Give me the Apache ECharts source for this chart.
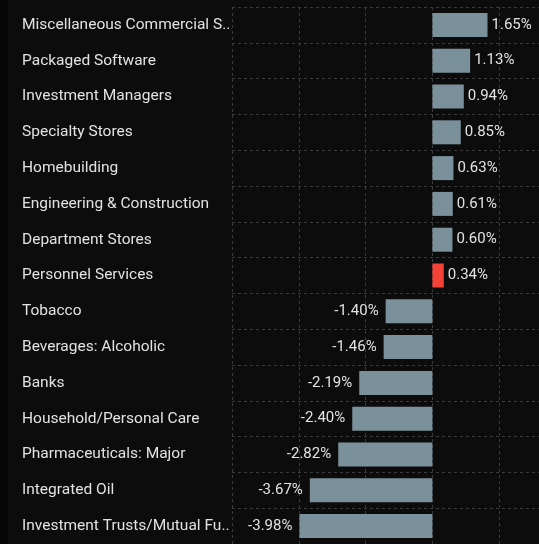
<!DOCTYPE html>
<html>
<head>
<meta charset="utf-8">
<script src="https://cdn.jsdelivr.net/npm/echarts@6/dist/echarts.min.js"></script>
<style>
html,body{margin:0;padding:0;background:#0c0c0c;overflow:hidden;}
#chart{width:566px;height:544px;}
</style>
</head>
<body>
<div id="chart"></div>
<script>
var categories = [
  "Miscellaneous Commercial Services",
  "Packaged Software",
  "Investment Managers",
  "Specialty Stores",
  "Homebuilding",
  "Engineering & Construction",
  "Department Stores",
  "Personnel Services",
  "Tobacco",
  "Beverages: Alcoholic",
  "Banks",
  "Household/Personal Care",
  "Pharmaceuticals: Major",
  "Integrated Oil",
  "Investment Trusts/Mutual Funds"
];
var values = [1.65, 1.13, 0.94, 0.85, 0.63, 0.61, 0.60, 0.34, -1.40, -1.46, -2.19, -2.40, -2.82, -3.67, -3.98];
var highlighted = ["Personnel Services"];
var xTicks = {min: -6, max: 4, interval: 2};

var chart = echarts.init(document.getElementById('chart'), null, {renderer: 'canvas'});
var font = 'Roboto, "Noto Sans", sans-serif';
var option = {
  backgroundColor: '#0c0c0c',
  animation: false,
  graphic: [{type: 'rect', left: 0, top: 0, shape: {width: 8, height: 544}, style: {fill: '#050505'}, z: -1}],
  grid: {left: 232, right: 0, top: 7, bottom: -4, containLabel: false},
  xAxis: {
    type: 'value', min: xTicks.min, max: xTicks.max, interval: xTicks.interval,
    axisLabel: {show: false}, axisLine: {show: false}, axisTick: {show: false},
    splitLine: {show: true, lineStyle: {color: '#3a3a3a', type: [3, 3], width: 1}}
  },
  yAxis: {
    type: 'category', inverse: true, data: categories,
    axisLine: {show: false}, axisTick: {show: false},
    splitLine: {show: true, lineStyle: {color: '#3a3a3a', type: [3, 3], width: 1}},
    axisLabel: {
      align: 'left', margin: 210, width: 210, overflow: 'truncate', ellipsis: '..',
      color: '#e2e2e2', fontSize: 15.5, fontFamily: font
    }
  },
  series: [{
    type: 'bar', barWidth: 24,
    data: values.map(function (v, i) {
      var neg = v < 0;
      return {
        value: v,
        itemStyle: {color: highlighted.indexOf(categories[i]) >= 0 ? '#f44336' : '#7a909b'},
        label: {position: neg ? 'left' : 'right', distance: neg ? 7 : 4}
      };
    }),
    label: {
      show: true, color: '#e2e2e2', fontSize: 15, fontFamily: font,
      formatter: function (p) { return p.value.toFixed(2) + '%'; }
    }
  }]
};
chart.setOption(option);
</script>
</body>
</html>
